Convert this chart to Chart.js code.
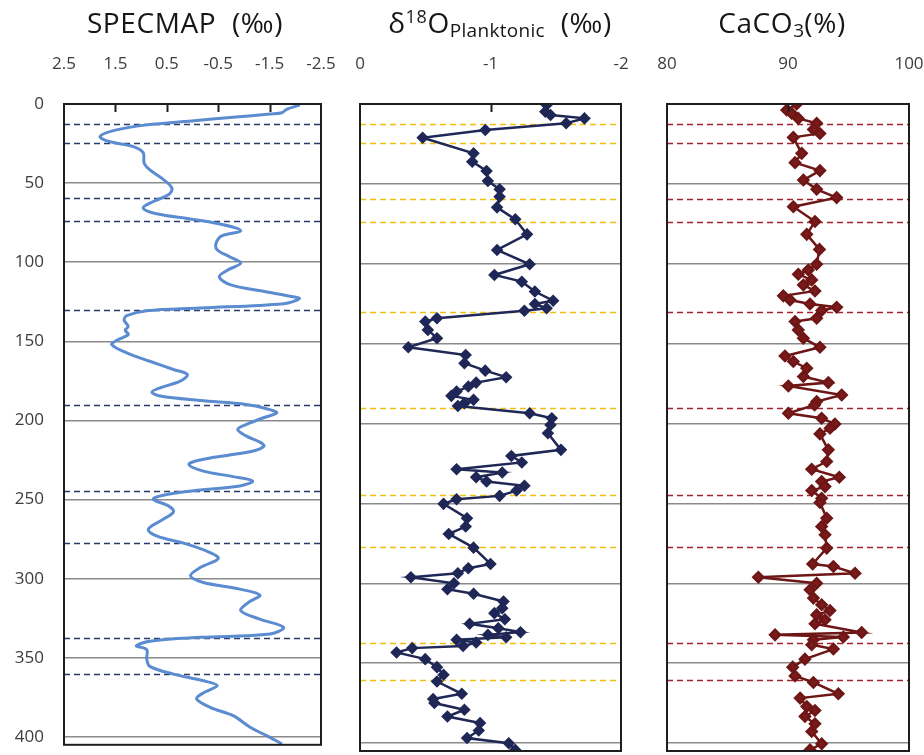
<!DOCTYPE html>
<html>
<head>
<meta charset="utf-8">
<script src="https://cdn.jsdelivr.net/npm/chart.js@4.4.1/dist/chart.umd.min.js"></script>
<style>
  html, body { margin: 0; padding: 0; background: #fff; }
  #wrap { position: relative; width: 924px; height: 755px; overflow: hidden; font-family: 'Open Sans', sans-serif; }
  #wrap canvas { position: absolute; left: 0; top: 0; }
  .title { position: absolute; top: 4px; font-size: 28px; line-height: 36px; letter-spacing: 0.6px; color: #161616; white-space: nowrap; transform: translateX(-50%); }
  .title .sup { font-size: 18px; position: relative; top: -10px; }
  .title .sub { font-size: 19px; position: relative; top: 4px; letter-spacing: 0.3px; }
</style>
</head>
<body>
<div id="wrap">
  <canvas id="specmapChart" width="924" height="755"></canvas>
  <canvas id="planktonicChart" width="924" height="755"></canvas>
  <canvas id="carbonateChart" width="924" height="755"></canvas>
  <div class="title" style="left:185px">SPECMAP&nbsp;&nbsp;(‰)</div>
  <div class="title" style="left:500px">δ<span class="sup">18</span>O<span class="sub">Planktonic</span>&nbsp;&nbsp;(‰)</div>
  <div class="title" style="left:782px">CaCO<span class="sub">3</span>(%)</div>
</div>
<script>
// depth axis (shared by all three panels)
const depthTicks = [0, 50, 100, 150, 200, 250, 300, 350, 400];
const depthMax = 405;
// stage boundaries drawn as dashed lines
const stageBoundaries = [12.5, 24.5, 59.5, 74, 130.4, 190, 244.5, 277.5, 337.5, 360.5];

// SPECMAP stack
const specmapTicks = [2.5, 1.5, 0.5, -0.5, -1.5, -2.5];
const specmapDepth = [
  0.6, 3.4, 5.5, 6.3, 8.4, 10.7, 13.2, 16.8, 20.6, 23.8,
  26.9, 30.7, 37.4, 41.6, 46.9, 53.2, 57.4, 61.6, 65.8, 69.4,
  72.8, 76.3, 80.1, 83.3, 87.9, 92.1, 96.7, 100.5, 105.2, 109.3,
  114.2, 118.4, 121.5, 123, 126.2, 128.9, 130.6, 133.8, 136.7, 140.5,
  143, 145.7, 149.3, 152.1, 157.3, 162.6, 167.8, 171, 175.2, 179.4,
  182.1, 184.6, 187.4, 189.9, 192.6, 195.2, 198.3, 202.5, 205.7, 209.9,
  213.7, 216.2, 219.3, 222.1, 225, 227.8, 232, 235.5, 238.3, 241.4,
  244.6, 247.3, 249.8, 254, 257.8, 262.5, 268.8, 273, 278.2, 283.5,
  287.3, 293, 298.2, 302.4, 306.6, 310.4, 315, 320.3, 325.6, 330.8,
  335, 337.1, 339.2, 342.4, 344.9, 350.8, 355.4, 360.3, 364.5, 367.6,
  372.2, 376, 381.3, 386.6, 393.9, 399.2, 404.4
];
const specmapValue = [
  -2.09, -1.83, -1.74, -1.51, -0.79, 0.02, 0.89, 1.54, 1.80, 1.61,
  1.15, 0.96, 0.94, 0.83, 0.60, 0.40, 0.47, 0.76, 0.96, 0.70,
  0.02, -0.60, -0.94, -0.57, -0.46, -0.48, -0.73, -0.94, -0.67, -0.52,
  -0.73, -1.38, -1.90, -2.08, -1.77, -0.15, 0.89, 1.28, 1.33, 1.25,
  1.31, 1.25, 1.47, 1.57, 1.28, 0.83, 0.37, 0.10, 0.24, 0.63,
  0.79, 0.63, -0.15, -1.05, -1.44, -1.64, -1.38, -1.05, -0.88, -1.05,
  -1.31, -1.39, -1.18, -0.67, -0.15, 0.07, -0.21, -0.79, -1.17, -0.92,
  0.02, 0.57, 0.76, 0.47, 0.37, 0.57, 0.86, 0.70, 0.11, -0.34,
  -0.50, -0.15, 0.04, -0.21, -0.92, -1.31, -1.09, -0.94, -1.31, -1.77,
  -1.51, -0.15, 0.76, 1.09, 0.89, 0.89, 0.83, 0.37, -0.21, -0.48,
  -0.21, -0.08, -0.34, -0.79, -1.12, -1.44, -1.74
];

// planktonic foraminifera d18O
const planktonicTicks = [0, -1, -2];
const planktonicDepth = [
  0.6, 4.8, 6.9, 9, 12.1, 16.3, 21.1, 30.9, 36.1, 41.9,
  48.2, 53.4, 58, 64.7, 72.2, 81.6, 91.4, 100.3, 107, 111.2,
  117.4, 123.1, 125.2, 127.9, 129.4, 134.1, 136.2, 141.4, 146.6, 152.3,
  157.1, 162.3, 166.9, 171, 174.4, 176.9, 180, 182.7, 185.2, 187.3,
  189, 193.6, 196.7, 200.9, 206.1, 216.5, 220.3, 224.4, 228.6, 230.7,
  233.6, 236.3, 239, 242, 245.3, 247.4, 250.3, 259.3, 264.5, 269.1,
  277.7, 287.9, 290.6, 293.7, 296.2, 300, 303.7, 306.6, 311.4, 315.6,
  318.7, 322.5, 325.4, 328.1, 330.6, 332.3, 333.8, 335.4, 337.1, 339.2,
  340.6, 343.3, 347.5, 352.5, 357.3, 361.5, 369.2, 372.5, 375, 379.2,
  383.4, 387.5, 392.2, 396.9, 400.1, 404.3
];
const planktonicValue = [
  -1.43, -1.42, -1.46, -1.72, -1.58, -0.96, -0.48, -0.87, -0.86, -0.97,
  -0.98, -1.07, -1.07, -1.05, -1.19, -1.28, -1.05, -1.30, -1.03, -1.24,
  -1.34, -1.48, -1.34, -1.43, -1.26, -0.59, -0.50, -0.52, -0.59, -0.37,
  -0.81, -0.80, -0.96, -1.12, -0.89, -0.83, -0.74, -0.70, -0.87, -0.80,
  -0.75, -1.30, -1.47, -1.46, -1.44, -1.54, -1.16, -1.24, -0.74, -1.09,
  -0.89, -0.97, -1.26, -1.20, -1.07, -0.74, -0.64, -0.82, -0.81, -0.68,
  -0.87, -1.00, -0.83, -0.75, -0.39, -0.72, -0.67, -0.87, -1.10, -1.09,
  -1.03, -1.11, -0.84, -1.06, -1.23, -0.98, -1.12, -0.74, -0.89, -0.79,
  -0.40, -0.28, -0.50, -0.59, -0.64, -0.59, -0.78, -0.56, -0.57, -0.80,
  -0.67, -0.92, -0.91, -0.82, -1.14, -1.19
];

// carbonate content
const carbonateTicks = [80, 90, 100];
const carbonateDepth = [
  0, 3.8, 5.8, 9, 12.1, 15.9, 18.4, 20.9, 30.9, 36.7,
  41.7, 47.6, 53.4, 58.6, 64.3, 73.6, 81.6, 91, 100.3, 103.9,
  106.6, 110.1, 113.3, 117, 120.1, 122.7, 125.2, 127.2, 129.3, 134.1,
  136.2, 141.4, 146.6, 152.3, 157.7, 161.2, 165.4, 170.6, 174.4, 176.5,
  182.1, 186.3, 188.4, 193.6, 196.7, 200.3, 203, 206.5, 216.5, 223.8,
  228.6, 233.6, 236.3, 239.5, 242, 246.8, 249.5, 259.3, 264.5, 269.7,
  278, 287.9, 289.5, 293.7, 296.2, 300, 304.1, 309.3, 313.5, 317.1,
  319.8, 322.9, 325.4, 330.8, 332.3, 333.7, 335.4, 338.5, 341.2, 347.5,
  352.5, 358, 362.1, 369.2, 371.9, 377.1, 379.7, 383.4, 388, 392.8,
  400.5, 404.3
];
const carbonateValue = [
  90.72, 89.89, 90.3, 90.85, 92.37, 92.1, 92.64, 90.44, 91.13, 90.58,
  92.64, 91.27, 92.37, 94.02, 90.44, 92.23, 91.55, 92.6, 92.37, 91.68,
  90.85, 91.96, 91.27, 92.23, 89.61, 90.17, 91.82, 94.02, 92.78, 92.37,
  90.58, 90.85, 91.27, 92.64, 89.75, 90.44, 91.55, 91.27, 93.33, 90.03,
  94.44, 92.37, 92.2, 90.03, 92.78, 93.88, 93.47, 92.64, 93.33, 93.2,
  91.96, 94.24, 92.78, 93.06, 91.96, 92.78, 92.64, 93.2, 92.78, 93.06,
  93.2, 92.04, 93.75, 95.54, 87.55, 92.37, 91.82, 92.1, 92.78, 93.47,
  92.37, 93.06, 92.23, 96.09, 88.93, 94.57, 92.1, 91.96, 93.75, 91.4,
  90.39, 90.58, 92.1, 94.16, 91, 91.55, 92.23, 91.4, 92.23, 91.96,
  92.78, 91.82
];

const FONT = "'Open Sans', sans-serif";
const W = 924, H = 755;

// depth profile: value on x, depth on y
function profile(depths, values) {
  return depths.map((d, i) => ({ x: values[i], y: d }));
}

// dashed stage lines under the data, black frame + inner top ticks above it
const panelFrame = {
  id: 'panelFrame',
  beforeDatasetsDraw(chart, args, opts) {
    const { ctx, chartArea: a, scales } = chart;
    ctx.save();
    ctx.strokeStyle = opts.dashColor;
    ctx.lineWidth = 1.5;
    ctx.setLineDash([6, 4]);
    stageBoundaries.forEach(d => {
      const y = Math.round(scales.y.getPixelForValue(d)) + 0.5;
      ctx.beginPath();
      ctx.moveTo(a.left, y);
      ctx.lineTo(a.right, y);
      ctx.stroke();
    });
    ctx.restore();
  },
  afterDatasetsDraw(chart) {
    const { ctx, chartArea: a, scales } = chart;
    ctx.save();
    ctx.strokeStyle = '#1e1e1e';
    ctx.lineWidth = 2;
    ctx.strokeRect(a.left, a.top, a.right - a.left, a.bottom - a.top);
    scales.x.ticks.slice(1, -1).forEach(t => {
      const x = Math.round(scales.x.getPixelForValue(t.value)) + 0.5;
      ctx.beginPath();
      ctx.moveTo(x, a.top);
      ctx.lineTo(x, a.top + 8);
      ctx.stroke();
    });
    ctx.restore();
  }
};

function makePanel(id, p) {
  return new Chart(document.getElementById(id), {
    type: 'scatter',
    data: { datasets: [p.dataset] },
    plugins: [panelFrame],
    options: {
      responsive: false,
      animation: false,
      events: [],
      layout: { autoPadding: false, padding: { left: 0, top: 0, right: W - p.area.right, bottom: H - p.area.bottom } },
      plugins: {
        legend: { display: false },
        tooltip: { enabled: false },
        panelFrame: { dashColor: p.dashColor }
      },
      scales: {
        x: {
          type: 'linear',
          position: 'top',
          min: p.min,
          max: p.max,
          reverse: p.reverse,
          afterBuildTicks: s => { s.ticks = p.ticks.map(v => ({ value: v })); },
          afterFit: s => { s.height = p.area.top; },
          // invisible tick marks keep the labels off the frame
          grid: { display: true, color: 'rgba(0,0,0,0)', drawOnChartArea: false, drawTicks: true, tickLength: 30 },
          border: { display: false },
          ticks: {
            autoSkip: false, maxRotation: 0, padding: 0,
            color: '#3c3c3c', font: { family: FONT, size: 17 },
            callback: v => String(v)
          }
        },
        y: {
          type: 'linear',
          position: 'left',
          min: 0,
          max: depthMax,
          reverse: true,
          afterBuildTicks: s => { s.ticks = depthTicks.map(v => ({ value: v })); },
          afterFit: s => { s.width = p.area.left; },
          grid: { color: '#8a8a8a', lineWidth: 1.5, drawTicks: true, tickLength: 20, tickColor: 'rgba(0,0,0,0)' },
          border: { display: false },
          ticks: {
            display: !!p.depthLabels, padding: 0,
            color: '#3c3c3c', font: { family: FONT, size: 17 }
          }
        }
      }
    }
  });
}

makePanel('specmapChart', {
  area: { left: 64, right: 321, top: 104, bottom: 745 },
  min: -2.5, max: 2.5, reverse: true, ticks: specmapTicks,
  depthLabels: true,
  dashColor: '#2b3a67',
  dataset: {
    data: profile(specmapDepth, specmapValue),
    showLine: true,
    borderColor: '#5b8bd0',
    borderWidth: 3,
    pointRadius: 0,
    tension: 0.35
  }
});

makePanel('planktonicChart', {
  area: { left: 360, right: 621, top: 104, bottom: 751 },
  min: -2, max: 0, reverse: true, ticks: planktonicTicks,
  dashColor: '#f0bf10',
  dataset: {
    data: profile(planktonicDepth, planktonicValue),
    showLine: true,
    borderColor: '#1f2757',
    borderWidth: 2.5,
    pointStyle: 'rectRot',
    pointRadius: 4.5,
    pointBackgroundColor: '#1f2757',
    pointBorderColor: '#1f2757',
    tension: 0
  }
});

makePanel('carbonateChart', {
  area: { left: 667, right: 909, top: 104, bottom: 751 },
  min: 80, max: 100, reverse: false, ticks: carbonateTicks,
  dashColor: '#a52030',
  dataset: {
    data: profile(carbonateDepth, carbonateValue),
    showLine: true,
    borderColor: '#6e1616',
    borderWidth: 2.5,
    pointStyle: 'rectRot',
    pointRadius: 5,
    pointBackgroundColor: '#7a1a1a',
    pointBorderColor: '#6e1616',
    tension: 0
  }
});
</script>
</body>
</html>
